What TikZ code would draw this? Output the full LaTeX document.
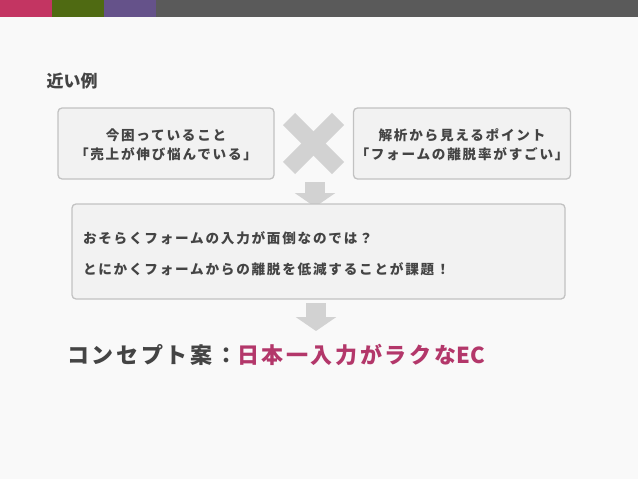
\documentclass[tikz,border=0pt]{standalone}
\usepackage{fontspec}
\setmainfont{Noto Sans CJK JP}
\newfontfamily\jpbox[LetterSpace=13]{Noto Sans CJK JP}
\newfontfamily\jpbig[LetterSpace=12]{Noto Sans CJK JP}
\usetikzlibrary{arrows.meta,positioning}

\definecolor{pagebg}{HTML}{F9F9F9}
\definecolor{barpink}{HTML}{C33562}
\definecolor{bargreen}{HTML}{4F6A12}
\definecolor{barpurple}{HTML}{65528A}
\definecolor{bargrey}{HTML}{5A5A5A}
\definecolor{textgrey}{HTML}{444444}
\definecolor{accent}{HTML}{B3376A}
\definecolor{boxfill}{HTML}{F2F2F2}
\definecolor{boxline}{HTML}{C2C2C2}
\definecolor{markgrey}{HTML}{D2D2D2}

\begin{document}
\begin{tikzpicture}[
    x=1pt, y=-1pt,
    box/.style={rectangle, rounded corners=4pt, draw=boxline, fill=boxfill, line width=1.3pt,
        inner xsep=2pt, text=textgrey, font=\jpbox\bfseries\fontsize{13.6}{19}\selectfont, align=center},
    flow/.style={-{Triangle[width=40pt,length=14pt]}, line width=20pt, draw=markgrey}
]
    % background and top bar
    \useasboundingbox[fill=pagebg] (0,0) rectangle (638,479);
    \fill[barpink] (0,0) rectangle (52,17);
    \fill[bargreen] (52,0) rectangle (104,17);
    \fill[barpurple] (104,0) rectangle (156,17);
    \fill[bargrey] (156,0) rectangle (638,17);

    % title
    \node[anchor=west, text=textgrey, font=\bfseries\fontsize{17}{20}\selectfont] (title) at (43,81) {近い例};

    % the two inputs
    \node[box, minimum width=216pt, minimum height=71pt] (trouble) at (166,143.5)
        {\rule{0pt}{14pt}今困っていること\\「売上が伸び悩んでいる」};
    \node[box, minimum width=216pt, minimum height=71pt] (point) at (462,143.5)
        {\rule{0pt}{14pt}解析から見えるポイント\\「フォームの離脱率がすごい」};

    % cross mark between them
    \draw[markgrey, line width=17pt] (289,119) -- (338,168);
    \draw[markgrey, line width=17pt] (338,119) -- (289,168);

    % arrow into the result box
    \coordinate (arrowtop) at (315,182);
    \coordinate (arrowend) at (315,207);
    \draw[flow] (arrowtop) -- (arrowend);

    % result box
    \node[box, minimum width=493pt, minimum height=95pt, text width=471pt, align=left,
        font=\jpbox\bfseries\fontsize{13.6}{31}\selectfont] (result) at (318.5,251.5)
        {\rule{0pt}{16pt}おそらくフォームの入力が面倒なのでは？\\とにかくフォームからの離脱を低減することが課題！};

    % arrow to the concept
    \coordinate (conctop) at (316,303);
    \coordinate (concend) at (316,331);
    \draw[flow] (conctop) -- (concend);

    % concept line
    \node[anchor=west, inner sep=0pt, font=\jpbig\bfseries\fontsize{22}{26}\selectfont] (concept) at (67,355)
        {\textcolor{textgrey}{コンセプト案：}\textcolor{accent}{日本一入力がラクな{\addfontfeature{LetterSpace=2}EC}}};
\end{tikzpicture}
\end{document}
